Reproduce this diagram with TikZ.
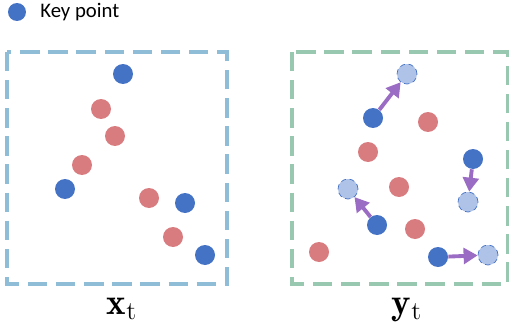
\documentclass[tikz,border=0pt]{standalone}
\usepackage{fontspec}
\usepackage{amsmath}
\newfontfamily\legendfont{Carlito}
\usepackage{tikz}
\usetikzlibrary{arrows.meta}
\definecolor{keyblue}{HTML}{4472C4}
\definecolor{ghostblue}{HTML}{AFC3E8}
\definecolor{ptred}{HTML}{D97C80}
\definecolor{framecyan}{HTML}{8FBCD6}
\definecolor{framegreen}{HTML}{98C9B0}
\definecolor{movepurple}{HTML}{9B6CC4}

\begin{document}
\begin{tikzpicture}[
  x=0.02cm, y=-0.02cm,
  keypt/.style={circle, fill=keyblue, inner sep=0pt, minimum size=0.4cm},
  plainpt/.style={circle, fill=ptred, inner sep=0pt, minimum size=0.4cm},
  movedpt/.style={circle, fill=ghostblue, draw=keyblue, densely dashed, line width=0.4pt, inner sep=0pt, minimum size=0.4cm},
  framebox/.style={line width=2.1pt, dash pattern=on 11pt off 5pt},
  shiftarrow/.style={-{Triangle[length=8pt,width=9pt]}, line width=2.2pt, draw=movepurple},
  caption/.style={font=\fontsize{21}{24}\selectfont, anchor=base}
]
\useasboundingbox (0,0) rectangle (509,331);

% legend
\node[keypt, minimum size=0.36cm] (legdot) at (17,12) {};
\node[anchor=west, inner sep=0pt, font=\legendfont\fontsize{11.8}{14}\selectfont] (legtext) at (40,12) {Key point};

% left frame: x_t
\draw[framebox, draw=framecyan] (7,52) rectangle (227,284);
\node[keypt] (xa) at (123,74) {};
\node[plainpt] (xr1) at (101,109) {};
\node[plainpt] (xr2) at (115,136) {};
\node[plainpt] (xr3) at (82,165) {};
\node[keypt] (xb) at (65,189) {};
\node[plainpt] (xr4) at (149,198) {};
\node[keypt] (xc) at (185,203) {};
\node[plainpt] (xr5) at (173,237) {};
\node[keypt] (xd) at (205,255) {};
\node[caption] (xlab) at (122,314) {$\mathbf{x}_{\mathrm{t}}$};

% right frame: y_t
\draw[framebox, draw=framegreen] (292,52) rectangle (507.5,284);
\node[plainpt] (yr1) at (428,122) {};
\node[plainpt] (yr2) at (368,152) {};
\node[plainpt] (yr3) at (399,187) {};
\node[plainpt] (yr4) at (415,229) {};
\node[plainpt] (yr5) at (319,252) {};
\node[keypt] (ya) at (373,118) {};
\node[keypt] (yb) at (473,159) {};
\node[keypt] (yc) at (377,225) {};
\node[keypt] (yd) at (438,257) {};
\node[movedpt] (ga) at (407,74) {};
\node[movedpt] (gb) at (468,202) {};
\node[movedpt] (gc) at (348,189) {};
\node[movedpt] (gd) at (488,255) {};
\node[caption] (ylab) at (407,314) {$\mathbf{y}_{\mathrm{t}}$};

\foreach \a/\b in {ya/ga,yb/gb,yc/gc,yd/gd}{\draw[shiftarrow] (\a) -- (\b);}
\end{tikzpicture}
\end{document}
